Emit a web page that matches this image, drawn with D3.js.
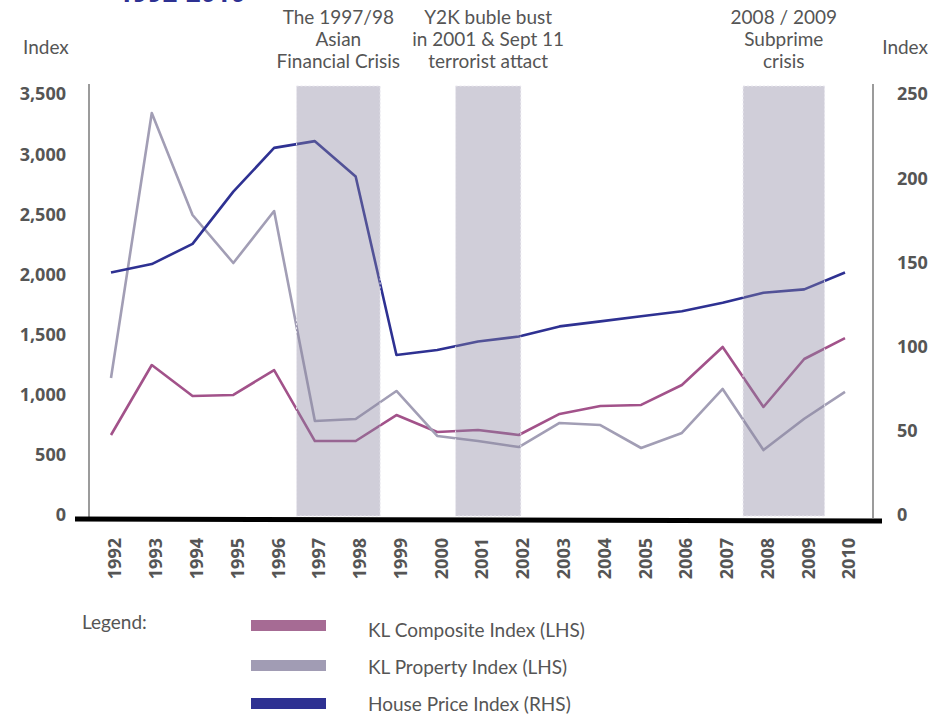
<!DOCTYPE html>
<html>
<head>
<meta charset="utf-8">
<script src="https://cdn.jsdelivr.net/npm/d3@7/dist/d3.min.js"></script>
<style>
  html, body { margin: 0; padding: 0; background: #fff; }
  svg { display: block; }
  .num { font-family: "Open Sans", sans-serif; font-weight: 700; font-size: 18px; fill: #555; }
  .txt { font-family: Lato, sans-serif; font-size: 19px; fill: #555; }
</style>
</head>
<body>
<svg id="chart" width="947" height="716"></svg>
<script>
// Years on the horizontal axis
const years = [1992,1993,1994,1995,1996,1997,1998,1999,2000,2001,2002,2003,2004,2005,2006,2007,2008,2009,2010];

// KL Composite Index (left axis)
const klci = [665,1247,989,998,1205,615,615,831,690,707,665,840,906,915,1081,1397,898,1297,1471];
// KL Property Index (left axis)
const klProperty = [1139,3342,2494,2095,2527,781,798,1031,657,615,565,765,748,557,682,1048,540,800,1023];
// House Price Index (right axis)
const housePrice = [144,149,161,192,218,222,201,95,98,103,106,112,115,118,121,126,132,134,144];

// Axis ticks
const leftTicks = [0,500,1000,1500,2000,2500,3000,3500];
const rightTicks = [0,50,100,150,200,250];

// Crisis periods (in fractional years) with their captions
const crisisBands = [[1996.55, 1998.6], [2000.45, 2002.05], [2007.5, 2009.5]];
const crisisLabels = [
  ["The 1997/98", "Asian", "Financial Crisis"],
  ["Y2K buble bust", "in 2001 & Sept 11", "terrorist attact"],
  ["2008 / 2009", "Subprime", "crisis"]
];

const seriesNames = ["KL Composite Index (LHS)", "KL Property Index (LHS)", "House Price Index (RHS)"];
const lineColors = ["#a2528a", "#a29eb5", "#2e3192"];
const swatchColors = ["#a66b94", "#a19cb4", "#2e3192"];

const svg = d3.select("#chart");

const x = d3.scaleLinear().domain([1992, 2010]).range([111, 845]);
const yL = d3.scaleLinear().domain([0, 3500]).range([515, 94]);
const yR = d3.scaleLinear().domain([0, 250]).range([515, 94]);

// Heading, running off the top edge
svg.append("text")
  .attr("x", 118).attr("y", 2)
  .attr("font-family", "Open Sans, sans-serif").attr("font-weight", 700)
  .attr("font-size", 26).attr("fill", "#2e3192")
  .text("1992-2010");

// Axis titles
svg.append("text").attr("class", "txt").attr("x", 23).attr("y", 54).text("Index");
svg.append("text").attr("class", "txt").attr("x", 928).attr("y", 54)
  .attr("text-anchor", "end").text("Index");

// Vertical axis lines
svg.append("line").attr("x1", 89).attr("x2", 89).attr("y1", 84).attr("y2", 518)
  .attr("stroke", "#7a7a7a").attr("stroke-width", 1.5);
svg.append("line").attr("x1", 873).attr("x2", 873).attr("y1", 84).attr("y2", 518)
  .attr("stroke", "#7a7a7a").attr("stroke-width", 1.5);

// Tick labels
svg.append("g").selectAll("text").data(leftTicks).join("text")
  .attr("class", "num").attr("x", 66).attr("y", d => yL(d)).attr("dy", "0.36em")
  .attr("text-anchor", "end").text(d => d3.format(",")(d));
svg.append("g").selectAll("text").data(rightTicks).join("text")
  .attr("class", "num").attr("x", 897).attr("y", d => yR(d)).attr("dy", "0.36em")
  .text(d => d);

// Year labels, rotated
svg.append("g").selectAll("text").data(years).join("text")
  .attr("class", "num")
  .attr("transform", d => `translate(${x(d) + 4},538) rotate(-90)`)
  .attr("text-anchor", "end").attr("dy", "0.36em")
  .text(d => d);

// Series lines
const seriesLines = [
  { values: klci, y: yL },
  { values: klProperty, y: yL },
  { values: housePrice, y: yR }
];
const lines = svg.append("g");
seriesLines.forEach((s, i) => {
  const gen = d3.line().x((d, j) => x(years[j])).y(d => s.y(d));
  lines.append("path")
    .attr("d", gen(s.values))
    .attr("fill", "none")
    .attr("stroke", lineColors[i])
    .attr("stroke-width", 2.6)
    .attr("stroke-linejoin", "round");
});

// Translucent crisis bands laid over the lines
svg.append("g").selectAll("rect").data(crisisBands).join("rect")
  .attr("x", d => x(d[0])).attr("width", d => x(d[1]) - x(d[0]))
  .attr("y", 86).attr("height", 430)
  .attr("fill", "rgb(137,132,160)").attr("fill-opacity", 0.4)
  .attr("stroke", "#ebe9f0").attr("stroke-width", 1).attr("stroke-dasharray", "2,2");

// Band captions
crisisBands.forEach((b, i) => {
  const cx = (x(b[0]) + x(b[1])) / 2;
  svg.append("text").attr("class", "txt").attr("text-anchor", "middle")
    .selectAll("tspan").data(crisisLabels[i]).join("tspan")
    .attr("x", cx).attr("y", (d, k) => 24 + k * 22)
    .text(d => d);
});

// Heavy baseline
svg.append("line").attr("x1", 75).attr("y1", 519).attr("x2", 882).attr("y2", 521)
  .attr("stroke", "#000").attr("stroke-width", 5);

// Legend
svg.append("text").attr("class", "txt").attr("x", 82).attr("y", 629).text("Legend:");
const swatchTops = [620, 660, 698];
const labelBaselines = [637, 674, 711];
const legend = svg.append("g");
seriesNames.forEach((name, i) => {
  legend.append("rect").attr("x", 251).attr("y", swatchTops[i])
    .attr("width", 75).attr("height", 11).attr("fill", swatchColors[i]);
  legend.append("text").attr("class", "txt").attr("x", 368)
    .attr("y", labelBaselines[i]).text(name);
});
</script>
</body>
</html>
